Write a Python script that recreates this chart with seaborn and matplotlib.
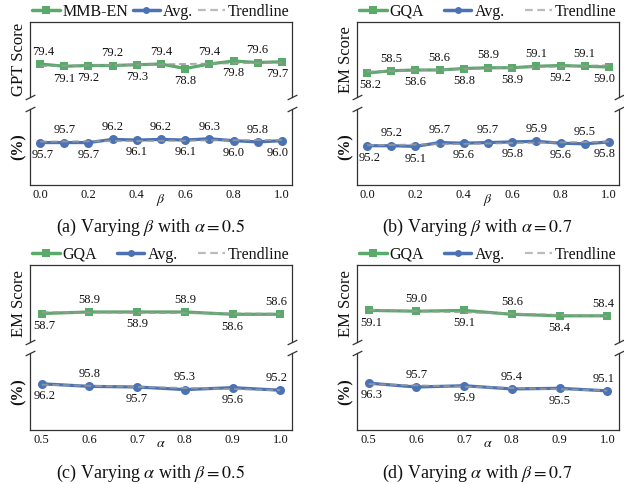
import numpy as np
import pandas as pd
import matplotlib
matplotlib.use("Agg")
import matplotlib.pyplot as plt
from matplotlib.lines import Line2D
import seaborn as sns

# ---------------- data ----------------
beta_x = [0.0, 0.1, 0.2, 0.3, 0.4, 0.5, 0.6, 0.7, 0.8, 0.9, 1.0]
alpha_x = [0.5, 0.6, 0.7, 0.8, 0.9, 1.0]
beta_ticks = [0.0, 0.2, 0.4, 0.6, 0.8, 1.0]
alpha_ticks = [0.5, 0.6, 0.7, 0.8, 0.9, 1.0]

a_top = [79.4, 79.1, 79.2, 79.2, 79.3, 79.4, 78.8, 79.4, 79.8, 79.6, 79.7]
a_avg = [95.7, 95.7, 95.7, 96.2, 96.1, 96.2, 96.1, 96.3, 96.0, 95.8, 96.0]
b_top = [58.2, 58.5, 58.6, 58.6, 58.8, 58.9, 58.9, 59.1, 59.2, 59.1, 59.0]
b_avg = [95.2, 95.2, 95.1, 95.7, 95.6, 95.7, 95.8, 95.9, 95.6, 95.5, 95.8]
c_top = [58.7, 58.9, 58.9, 58.9, 58.6, 58.6]
c_avg = [96.2, 95.8, 95.7, 95.3, 95.6, 95.2]
d_top = [59.1, 59.0, 59.1, 58.6, 58.4, 58.4]
d_avg = [96.3, 95.7, 95.9, 95.4, 95.5, 95.1]

top_names = ["MMB-EN", "GQA", "GQA", "GQA"]
top_ylabels = ["GPT Score", "EM Score", "EM Score", "EM Score"]
avg_name = "Avg."
trend_name = "Trendline"
avg_ylabel = "(%)"
xlabels = [r"$\beta$", r"$\beta$", r"$\alpha$", r"$\alpha$"]
captions = [r"(a) Varying $\beta$ with $\alpha{=}0.5$",
            r"(b) Varying $\beta$ with $\alpha{=}0.7$",
            r"(c) Varying $\alpha$ with $\beta{=}0.5$",
            r"(d) Varying $\alpha$ with $\beta{=}0.7$"]

# label side: 1 above, -1 below
a_top_side = [1, -1, -1, 1, -1, 1, -1, 1, -1, 1, -1]
a_avg_side = [-1, 1, -1, 1, -1, 1, -1, 1, -1, 1, -1]
b_top_side = [-1, 1, -1, 1, -1, 1, -1, 1, -1, 1, -1]
b_avg_side = [-1, 1, -1, 1, -1, 1, -1, 1, -1, 1, -1]
c_top_side = [-1, 1, -1, 1, -1, 1]
c_avg_side = [-1, 1, -1, 1, -1, 1]
d_top_side = [-1, 1, -1, 1, -1, 1]
d_avg_side = [-1, 1, -1, 1, -1, 1]

panels = [
    (beta_x, beta_ticks, a_top, a_avg, a_top_side, a_avg_side),
    (beta_x, beta_ticks, b_top, b_avg, b_top_side, b_avg_side),
    (alpha_x, alpha_ticks, c_top, c_avg, c_top_side, c_avg_side),
    (alpha_x, alpha_ticks, d_top, d_avg, d_top_side, d_avg_side),
]

# ---------------- style ----------------
sns.set_theme(style="white")
plt.rcParams["font.family"] = ["Liberation Serif", "DejaVu Serif"]
plt.rcParams["mathtext.fontset"] = "stix"

GREEN = "#5aaa6b"
BLUE = "#4a72b5"
TREND = "#9a9a9a"
INK = "#111111"

W, H = 624, 484
fig = plt.figure(figsize=(W / 100, H / 100), dpi=100)


def rect(x0, y0, x1, y1):
    return [x0 / W, 1 - y1 / H, (x1 - x0) / W, (y1 - y0) / H]


lefts = [30, 357, 30, 357]
rights = [292, 619, 292, 619]
geo = [(22, 97, 109, 185), (22, 97, 109, 185),
       (265, 342, 353, 430), (265, 342, 353, 430)]
cap_y = [227, 227, 473, 473]

brk = dict(marker=[(-1, -0.5), (1, 0.5)], markersize=7, linestyle="none",
           color="#333333", mec="#333333", mew=0.9, clip_on=False)


def annotate(ax, xs, ys, sides):
    n = len(xs)
    for i, (x, y, s) in enumerate(zip(xs, ys, sides)):
        dx = 2 if i == 0 else (-3 if i == n - 1 else 0)
        ax.annotate(f"{y:.1f}", (x, y), xytext=(dx, 4.5 * s),
                    textcoords="offset points", ha="center",
                    va="bottom" if s > 0 else "top", fontsize=9,
                    color=INK, zorder=6)


for k, (xs, ticks, top, avg, tside, aside) in enumerate(panels):
    t0, t1, l0, l1 = geo[k]
    axu = fig.add_axes(rect(lefts[k], t0, rights[k], t1))
    axl = fig.add_axes(rect(lefts[k], l0, rights[k], l1))
    span = xs[-1] - xs[0]
    pad = span * 0.042 if span > 0.6 else span * 0.049

    dft = pd.DataFrame({"x": xs, "y": top})
    dfa = pd.DataFrame({"x": xs, "y": avg})
    sns.lineplot(data=dft, x="x", y="y", ax=axu, color=GREEN, marker="s",
                 markersize=6, linewidth=2.3, markeredgewidth=0, zorder=3)
    sns.lineplot(data=dfa, x="x", y="y", ax=axl, color=BLUE, marker="o",
                 markersize=6.5, linewidth=2.3, markeredgewidth=0, zorder=3)
    for ax, ys in ((axu, top), (axl, avg)):
        p = np.polyfit(xs, ys, 1)
        ax.plot(xs, np.polyval(p, xs), color=TREND, lw=1.4,
                dashes=(3.5, 2), zorder=4, alpha=0.85)
    annotate(axu, xs, top, tside)
    annotate(axl, xs, avg, aside)

    for ax in (axu, axl):
        ax.set_xlim(xs[0] - pad, xs[-1] + pad)
        for sp in ax.spines.values():
            sp.set_color("#333333")
            sp.set_linewidth(0.9)
        ax.set_yticks([])
        ax.set_xlabel("")
        ax.set_ylabel("")
        ax.set_facecolor("white")
    axu.spines["bottom"].set_visible(False)
    axl.spines["top"].set_visible(False)
    axu.set_xticks([])

    lo = np.floor(min(top)) - 3
    axu.set_ylim(lo, lo + 10)
    lo2 = np.floor(min(avg)) - 6
    axl.set_ylim(lo2, lo2 + 12)

    axu.text(-0.012, 0.5, top_ylabels[k], transform=axu.transAxes, rotation=90,
             ha="right", va="center", fontsize=12, color=INK)
    axl.text(-0.012, 0.5, avg_ylabel, transform=axl.transAxes, rotation=90,
             ha="right", va="center", fontsize=11.5, color=INK, fontweight="bold")

    axl.set_xticks(ticks)
    axl.set_xticklabels([f"{t:.1f}" for t in ticks], fontsize=9, color=INK)
    axl.tick_params(axis="x", length=0, pad=3)
    axl.annotate(xlabels[k], (0.5 * (xs[0] + xs[-1]), 0), xycoords=("data", "axes fraction"),
                 xytext=(0, -5), textcoords="offset points", ha="center", va="top",
                 fontsize=10, color=INK)

    axu.plot([0, 1], [0, 0], transform=axu.transAxes, **brk)
    axl.plot([0, 1], [1, 1], transform=axl.transAxes, **brk)

    handles = [
        Line2D([], [], color=GREEN, marker="s", markersize=6, lw=2.5, mew=0),
        Line2D([], [], color=BLUE, marker="o", markersize=5, lw=2.5, mew=0),
        Line2D([], [], color="#bbbbbb", lw=1.6, dashes=(3.5, 2)),
    ]
    axu.legend(handles, [top_names[k], avg_name, trend_name], ncol=3,
               loc="lower left", bbox_to_anchor=(0, 1.0, 1, 0.1), mode="expand",
               frameon=False, fontsize=11.5, handlelength=1.7, handletextpad=0.2,
               borderaxespad=0.05, borderpad=0.1, labelcolor=INK)

    cx = (lefts[k] + rights[k]) / 2 - 11
    fig.text(cx / W, 1 - cap_y[k] / H, captions[k], ha="center", va="center",
             fontsize=13, color=INK)

fig.savefig("out.png", dpi=100)
